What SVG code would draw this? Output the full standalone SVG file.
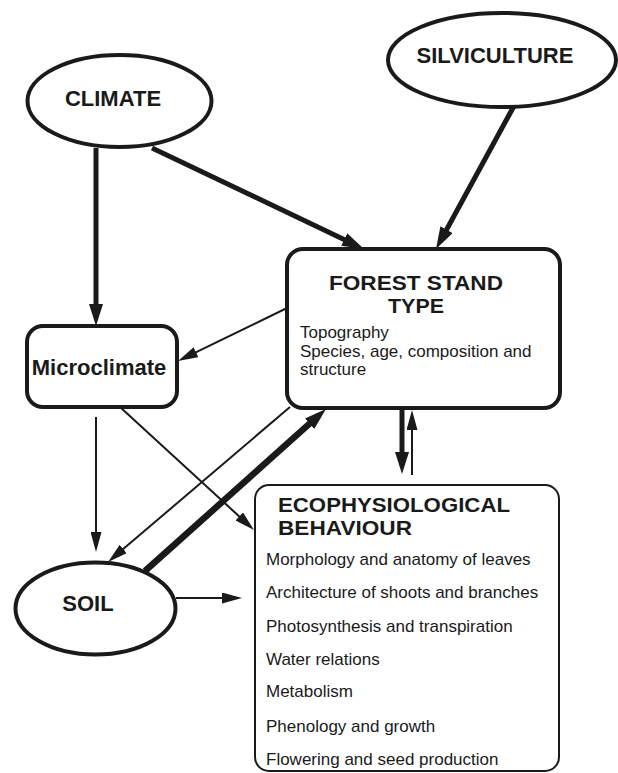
<svg xmlns="http://www.w3.org/2000/svg" width="618" height="773" viewBox="0 0 618 773">
<style>
.shape{fill:#fff;stroke:#1a1a1a;stroke-width:4}
.eco{fill:#fff;stroke:#1a1a1a;stroke-width:2}
.t{font-family:"Liberation Sans",Arial,sans-serif;fill:#1a1a1a}
.b{font-weight:bold;font-size:22px}
.h{font-weight:bold;font-size:20.5px}
.s{font-size:17px}
.thick{stroke:#1a1a1a;stroke-width:5;fill:none}
.thin{stroke:#1a1a1a;stroke-width:2;fill:none}
</style>
<defs>
<marker id="ahk" markerUnits="userSpaceOnUse" markerWidth="22" markerHeight="14" refX="12" refY="7" orient="auto">
<path d="M0,0 L22,7 L0,14 z" fill="#1a1a1a"/>
</marker>
<marker id="aht" markerUnits="userSpaceOnUse" markerWidth="20" markerHeight="11" refX="14" refY="5.5" orient="auto">
<path d="M0,0 L20,5.5 L0,11 z" fill="#1a1a1a"/>
</marker>
</defs>
<g id="connectors">
<line class="thick" x1="96" y1="148" x2="96" y2="316" marker-end="url(#ahk)"/>
<line class="thick" x1="152" y1="148" x2="355" y2="244.7" marker-end="url(#ahk)"/>
<line class="thick" x1="514" y1="106" x2="440.8" y2="240.2" marker-end="url(#ahk)"/>
<line class="thick" style="stroke-width:6.5" x1="145" y1="571" x2="318.5" y2="415.7" marker-end="url(#ahk)"/>
<line class="thick" x1="402" y1="408" x2="402" y2="464" marker-end="url(#ahk)"/>
<line class="thin" x1="287" y1="308" x2="183.4" y2="358.4" marker-end="url(#aht)"/>
<line class="thin" x1="96" y1="417" x2="96" y2="546" marker-end="url(#aht)"/>
<line class="thin" x1="120" y1="407" x2="249.6" y2="525.9" marker-end="url(#aht)"/>
<line class="thin" x1="290" y1="407" x2="112.6" y2="558.1" marker-end="url(#aht)"/>
<line class="thin" x1="412" y1="475" x2="412" y2="416" marker-end="url(#aht)"/>
<line class="thin" x1="176" y1="598" x2="236" y2="598" marker-end="url(#aht)"/>
</g>
<g id="climate">
<ellipse class="shape" cx="119.5" cy="101" rx="92" ry="46"/>
<text class="t b" x="113" y="106" text-anchor="middle">CLIMATE</text>
</g>
<g id="silviculture">
<ellipse class="shape" cx="502" cy="60" rx="114" ry="47"/>
<text class="t b" x="495" y="63" text-anchor="middle">SILVICULTURE</text>
</g>
<g id="forest-stand-type">
<rect class="shape" x="287" y="249" width="273" height="159" rx="16"/>
<text class="t h" x="329" y="290" textLength="174" lengthAdjust="spacingAndGlyphs">FOREST STAND</text>
<text class="t h" x="388" y="313" textLength="56" lengthAdjust="spacingAndGlyphs">TYPE</text>
<text class="t s" x="300" y="338">Topography</text>
<text class="t s" x="300" y="357">Species, age, composition and</text>
<text class="t s" x="300" y="375">structure</text>
</g>
<g id="microclimate">
<rect class="shape" x="27" y="326" width="150" height="81" rx="16"/>
<text class="t b" x="99" y="375" text-anchor="middle">Microclimate</text>
</g>
<g id="soil">
<ellipse class="shape" cx="95.5" cy="608.5" rx="80" ry="46"/>
<text class="t b" x="88" y="611" text-anchor="middle">SOIL</text>
</g>
<g id="ecophysiological-behaviour">
<rect class="eco" x="255" y="485" width="304" height="286" rx="14"/>
<text class="t h" x="278" y="512" textLength="232" lengthAdjust="spacingAndGlyphs">ECOPHYSIOLOGICAL</text>
<text class="t h" x="278" y="535" textLength="134" lengthAdjust="spacingAndGlyphs">BEHAVIOUR</text>
<text class="t s" x="266" y="565">Morphology and anatomy of leaves</text>
<text class="t s" x="266" y="598">Architecture of shoots and branches</text>
<text class="t s" x="266" y="632">Photosynthesis and transpiration</text>
<text class="t s" x="266" y="665">Water relations</text>
<text class="t s" x="266" y="697">Metabolism</text>
<text class="t s" x="266" y="732">Phenology and growth</text>
<text class="t s" x="266" y="765">Flowering and seed production</text>
</g>
</svg>
